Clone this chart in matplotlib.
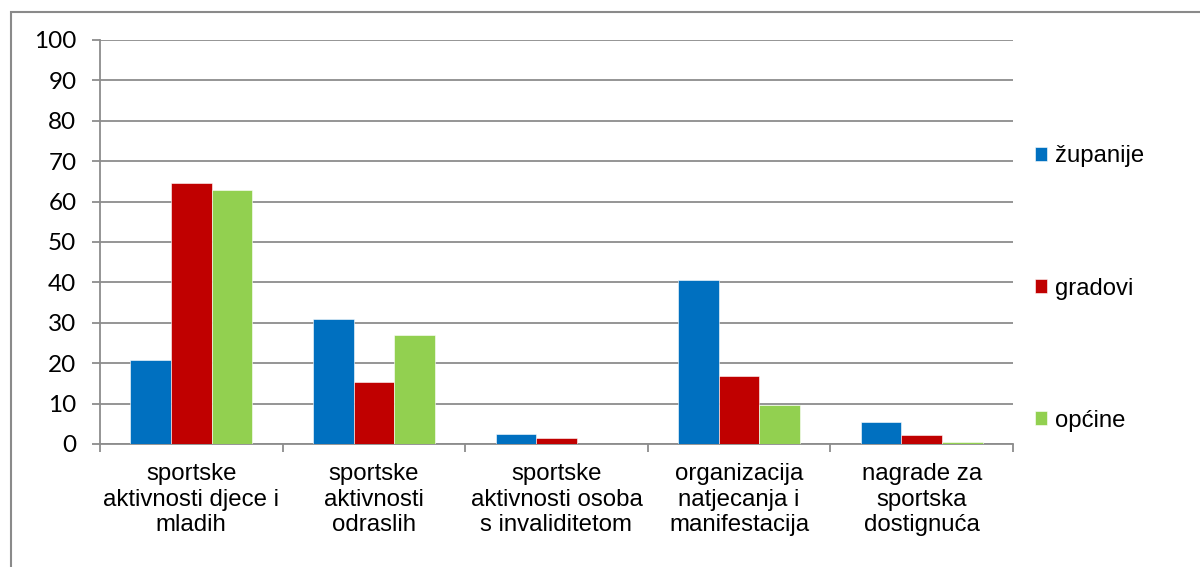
import matplotlib
matplotlib.use("Agg")
import matplotlib.pyplot as plt
from matplotlib.patches import Rectangle
import numpy as np

categories = [
    "sportske\naktivnosti djece i\nmladih",
    "sportske\naktivnosti\nodraslih",
    "sportske\naktivnosti osoba\ns invaliditetom",
    "organizacija\nnatjecanja i\nmanifestacija",
    "nagrade za\nsportska\ndostignuća",
]
series_names = ["županije", "gradovi", "općine"]
zupanije = [20.8, 30.9, 2.5, 40.6, 5.5]
gradovi = [64.5, 15.3, 1.6, 16.8, 2.3]
opcine = [62.9, 27.0, 0.0, 9.7, 0.6]
colors = ["#0070C0", "#C00000", "#92D050"]
y_ticks = list(range(0, 101, 10))

W, H = 1200, 567
fig = plt.figure(figsize=(W / 100, H / 100), dpi=100)
fig.patch.set_facecolor("white")

# outer chart frame (extends past the right and bottom edges)
fig.patches.append(Rectangle((11 / W, -0.2), 1.5, 1 - 12 / H + 0.2,
                             transform=fig.transFigure, fill=False,
                             edgecolor="#8a8a8a", linewidth=1.5, clip_on=False))

ax = fig.add_axes([100 / W, 1 - 444 / H, (1013 - 100) / W, (444 - 40) / H])

x = np.arange(len(categories))
bw = 2 / 9
for i, (vals, name) in enumerate(zip([zupanije, gradovi, opcine], series_names)):
    ax.bar(x + (i - 1) * bw, vals, width=bw, color=colors[i], label=name,
           edgecolor="white", linewidth=0.4, zorder=3)

ax.set_xlim(-0.5, len(categories) - 0.5)
ax.set_ylim(0, 100)
ax.set_yticks(y_ticks)
ax.set_yticklabels([str(v) for v in y_ticks], fontfamily="Lato", fontsize=17.5)
ax.yaxis.grid(True, color="#8c8c8c", linewidth=1.3, zorder=0)
ax.set_axisbelow(True)

ax.set_xticks(np.arange(-0.5, len(categories), 1.0))
ax.set_xticklabels([])
ax.set_xticks(x, minor=True)
ax.set_xticklabels(categories, minor=True, fontfamily="Liberation Sans",
                   fontsize=17.3, linespacing=1.2)
ax.tick_params(axis="x", which="minor", length=0, pad=14)
ax.tick_params(axis="x", which="major", length=5.5, width=1.3, color="#8c8c8c",
               direction="out")
ax.tick_params(axis="y", length=6, width=1.3, color="#8c8c8c", pad=11)

for s in ["top", "right"]:
    ax.spines[s].set_visible(False)
for s in ["left", "bottom"]:
    ax.spines[s].set_color("#8c8c8c")
    ax.spines[s].set_linewidth(1.3)

leg = fig.legend(loc="center left", bbox_to_anchor=(1035 / W, 1 - 288.5 / H),
                 frameon=False, prop={"family": "Liberation Sans", "size": 17.2},
                 handlelength=0.52, handleheight=0.52, handletextpad=0.3,
                 labelspacing=4.62, borderpad=0, borderaxespad=0)

fig.savefig("out.png", dpi=100)
